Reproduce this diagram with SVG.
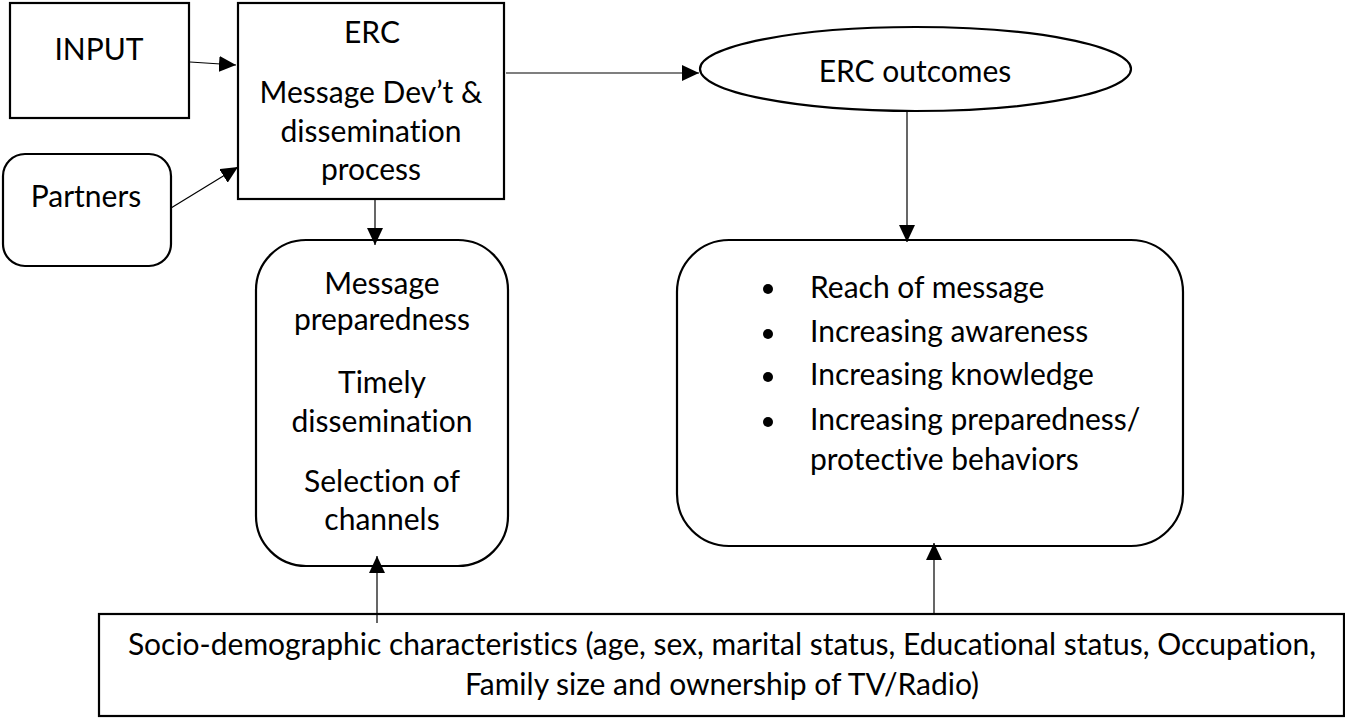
<svg xmlns="http://www.w3.org/2000/svg" width="1345" height="718" viewBox="0 0 1345 718">
<style>
.box{fill:#fff;stroke:#000;stroke-width:2.2}
.t{font-family:Lato,"Open Sans","Liberation Sans",sans-serif;font-size:30px;fill:#000;font-variant-ligatures:none}
.c{text-anchor:middle}
.ln{stroke:#000;stroke-width:1.2;fill:none}
</style>
<defs>
<marker id="ah" markerUnits="userSpaceOnUse" markerWidth="18" markerHeight="16" viewBox="0 0 18 16" refX="17" refY="8" orient="auto">
<path d="M0,0 L17,8 L0,16 Z" fill="#000"/>
</marker>
</defs>
<rect width="1345" height="718" fill="#fff"/>
<g id="input">
<rect class="box" x="10" y="3" width="179" height="115"/>
<text class="t c" x="99" y="60">INPUT</text>
</g>
<g id="partners">
<rect class="box" x="3" y="154" width="168" height="112" rx="22" ry="22"/>
<text class="t c" x="86" y="207">Partners</text>
</g>
<g id="erc">
<rect class="box" x="238" y="3" width="266" height="196"/>
<text class="t c" x="372" y="43">ERC</text>
<text class="t c" x="371" y="103">Message Dev’t &amp;</text>
<text class="t c" x="371" y="142">dissemination</text>
<text class="t c" x="371" y="180">process</text>
</g>
<g id="outcomes">
<ellipse class="box" cx="915.5" cy="69" rx="215.5" ry="42"/>
<text class="t c" x="915" y="82">ERC outcomes</text>
</g>
<g id="message">
<rect class="box" x="256" y="240" width="252" height="326" rx="50" ry="50"/>
<text class="t c" x="382" y="294">Message</text>
<text class="t c" x="382" y="330">preparedness</text>
<text class="t c" x="382" y="393">Timely</text>
<text class="t c" x="382" y="432">dissemination</text>
<text class="t c" x="382" y="492">Selection of</text>
<text class="t c" x="382" y="530">channels</text>
</g>
<g id="results">
<rect class="box" x="677" y="240" width="506" height="306" rx="52" ry="52"/>
<circle cx="768" cy="289" r="5"/>
<circle cx="768" cy="334" r="5"/>
<circle cx="768" cy="377" r="5"/>
<circle cx="768" cy="422" r="5"/>
<text class="t" x="810" y="298">Reach of message</text>
<text class="t" x="810" y="342">Increasing awareness</text>
<text class="t" x="810" y="385">Increasing knowledge</text>
<text class="t" x="810" y="430">Increasing preparedness/</text>
<text class="t" x="810" y="470">protective behaviors</text>
</g>
<g id="socio">
<rect class="box" x="99" y="614" width="1245" height="102"/>
<text class="t c" x="722" y="655">Socio-demographic characteristics (age, sex, marital status, Educational status, Occupation,</text>
<text class="t c" x="722" y="695">Family size and ownership of TV/Radio)</text>
</g>
<g id="connectors">
<line class="ln" x1="190" y1="62" x2="236" y2="65" marker-end="url(#ah)"/>
<line class="ln" x1="171" y1="208" x2="238" y2="167" marker-end="url(#ah)"/>
<line class="ln" x1="375" y1="199" x2="375" y2="245" marker-end="url(#ah)"/>
<line class="ln" x1="506" y1="73" x2="699" y2="73" marker-end="url(#ah)"/>
<line class="ln" x1="907" y1="111" x2="907" y2="242" marker-end="url(#ah)"/>
<line class="ln" x1="377" y1="623" x2="377" y2="556" marker-end="url(#ah)"/>
<line class="ln" x1="934" y1="614" x2="934" y2="543" marker-end="url(#ah)"/>
</g>
</svg>
